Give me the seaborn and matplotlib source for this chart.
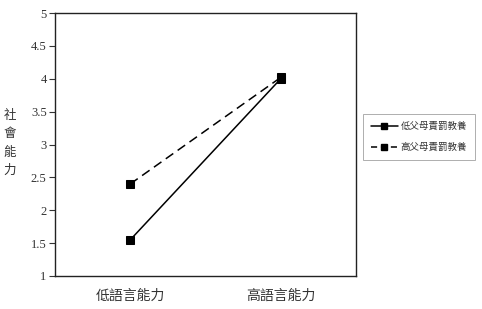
import matplotlib
matplotlib.use("Agg")
import matplotlib.pyplot as plt
import seaborn as sns
import pandas as pd

categories = ["低語言能力", "高語言能力"]
series_names = ["低父母責罰教養", "高父母責罰教養"]
low_parent = [1.55, 4.00]
high_parent = [2.40, 4.02]
y_ticks = [1, 1.5, 2, 2.5, 3, 3.5, 4, 4.5, 5]
y_label = "社會能力"

sns.set_theme(style="white")
plt.rcParams['font.family'] = ['Noto Sans CJK TC', 'DejaVu Sans']

rows = []
for name, vals in zip(series_names, [low_parent, high_parent]):
    for i, (c, v) in enumerate(zip(categories, vals)):
        rows.append({"x": i, "cat": c, "value": v, "group": name})
df = pd.DataFrame(rows)

fig = plt.figure(figsize=(4.82, 3.09), dpi=100)
ax = fig.add_axes([55/482, 1 - 276/309, (356-55)/482, (276-13)/309])

sns.lineplot(data=df, x="x", y="value", hue="group", style="group",
             hue_order=series_names, style_order=series_names,
             palette=["black", "black"], dashes=[(None, None), (6, 3.5)],
             markers=["s", "s"], markersize=5.5, linewidth=1.1,
             markeredgecolor="black", ax=ax, legend=False)

ax.set_xlim(-0.5, 1.5)
ax.set_ylim(1, 5)
ax.set_yticks(y_ticks)
ax.set_yticklabels([f"{t:g}" for t in y_ticks], family="Liberation Serif", fontsize=9, color="#333333")
ax.set_xticks([0, 1])
ax.set_xticklabels(categories, fontsize=10, color="#333333")
ax.set_xticks([0.5], minor=True)
ax.tick_params(axis="x", which="major", length=0, pad=9)
ax.tick_params(axis="x", which="minor", length=3, direction="in", width=0.6, color="#555555")
ax.tick_params(axis="y", length=4, direction="out", width=0.8, color="#333333", left=True, pad=2)
ax.set_xlabel("")
ax.set_ylabel("")
for s in ax.spines.values():
    s.set_visible(True)
    s.set_color("#222222")
    s.set_linewidth(1.0)

fig.text(10/482, 1 - 143/309, "\n".join(y_label), ha="center", va="center",
         fontsize=9, color="#333333", linespacing=1.5)

# legend
from matplotlib.lines import Line2D
handles = [Line2D([], [], color="black", lw=1.1, marker="s", markersize=3.8),
           Line2D([], [], color="black", lw=1.1, ls=(0, (4, 2.5)), marker="s", markersize=3.8)]
leg = fig.legend(handles, series_names, loc="center", bbox_to_anchor=(419/482, 1 - 137/309),
                 fontsize=6.8, frameon=True, fancybox=False, edgecolor="#999999",
                 handlelength=2.9, labelspacing=1.25, borderpad=0.8, handletextpad=0.3)
leg.get_frame().set_linewidth(0.7)
for t in leg.get_texts():
    t.set_color("#333333")

fig.savefig("out.png", dpi=100, facecolor="white")
